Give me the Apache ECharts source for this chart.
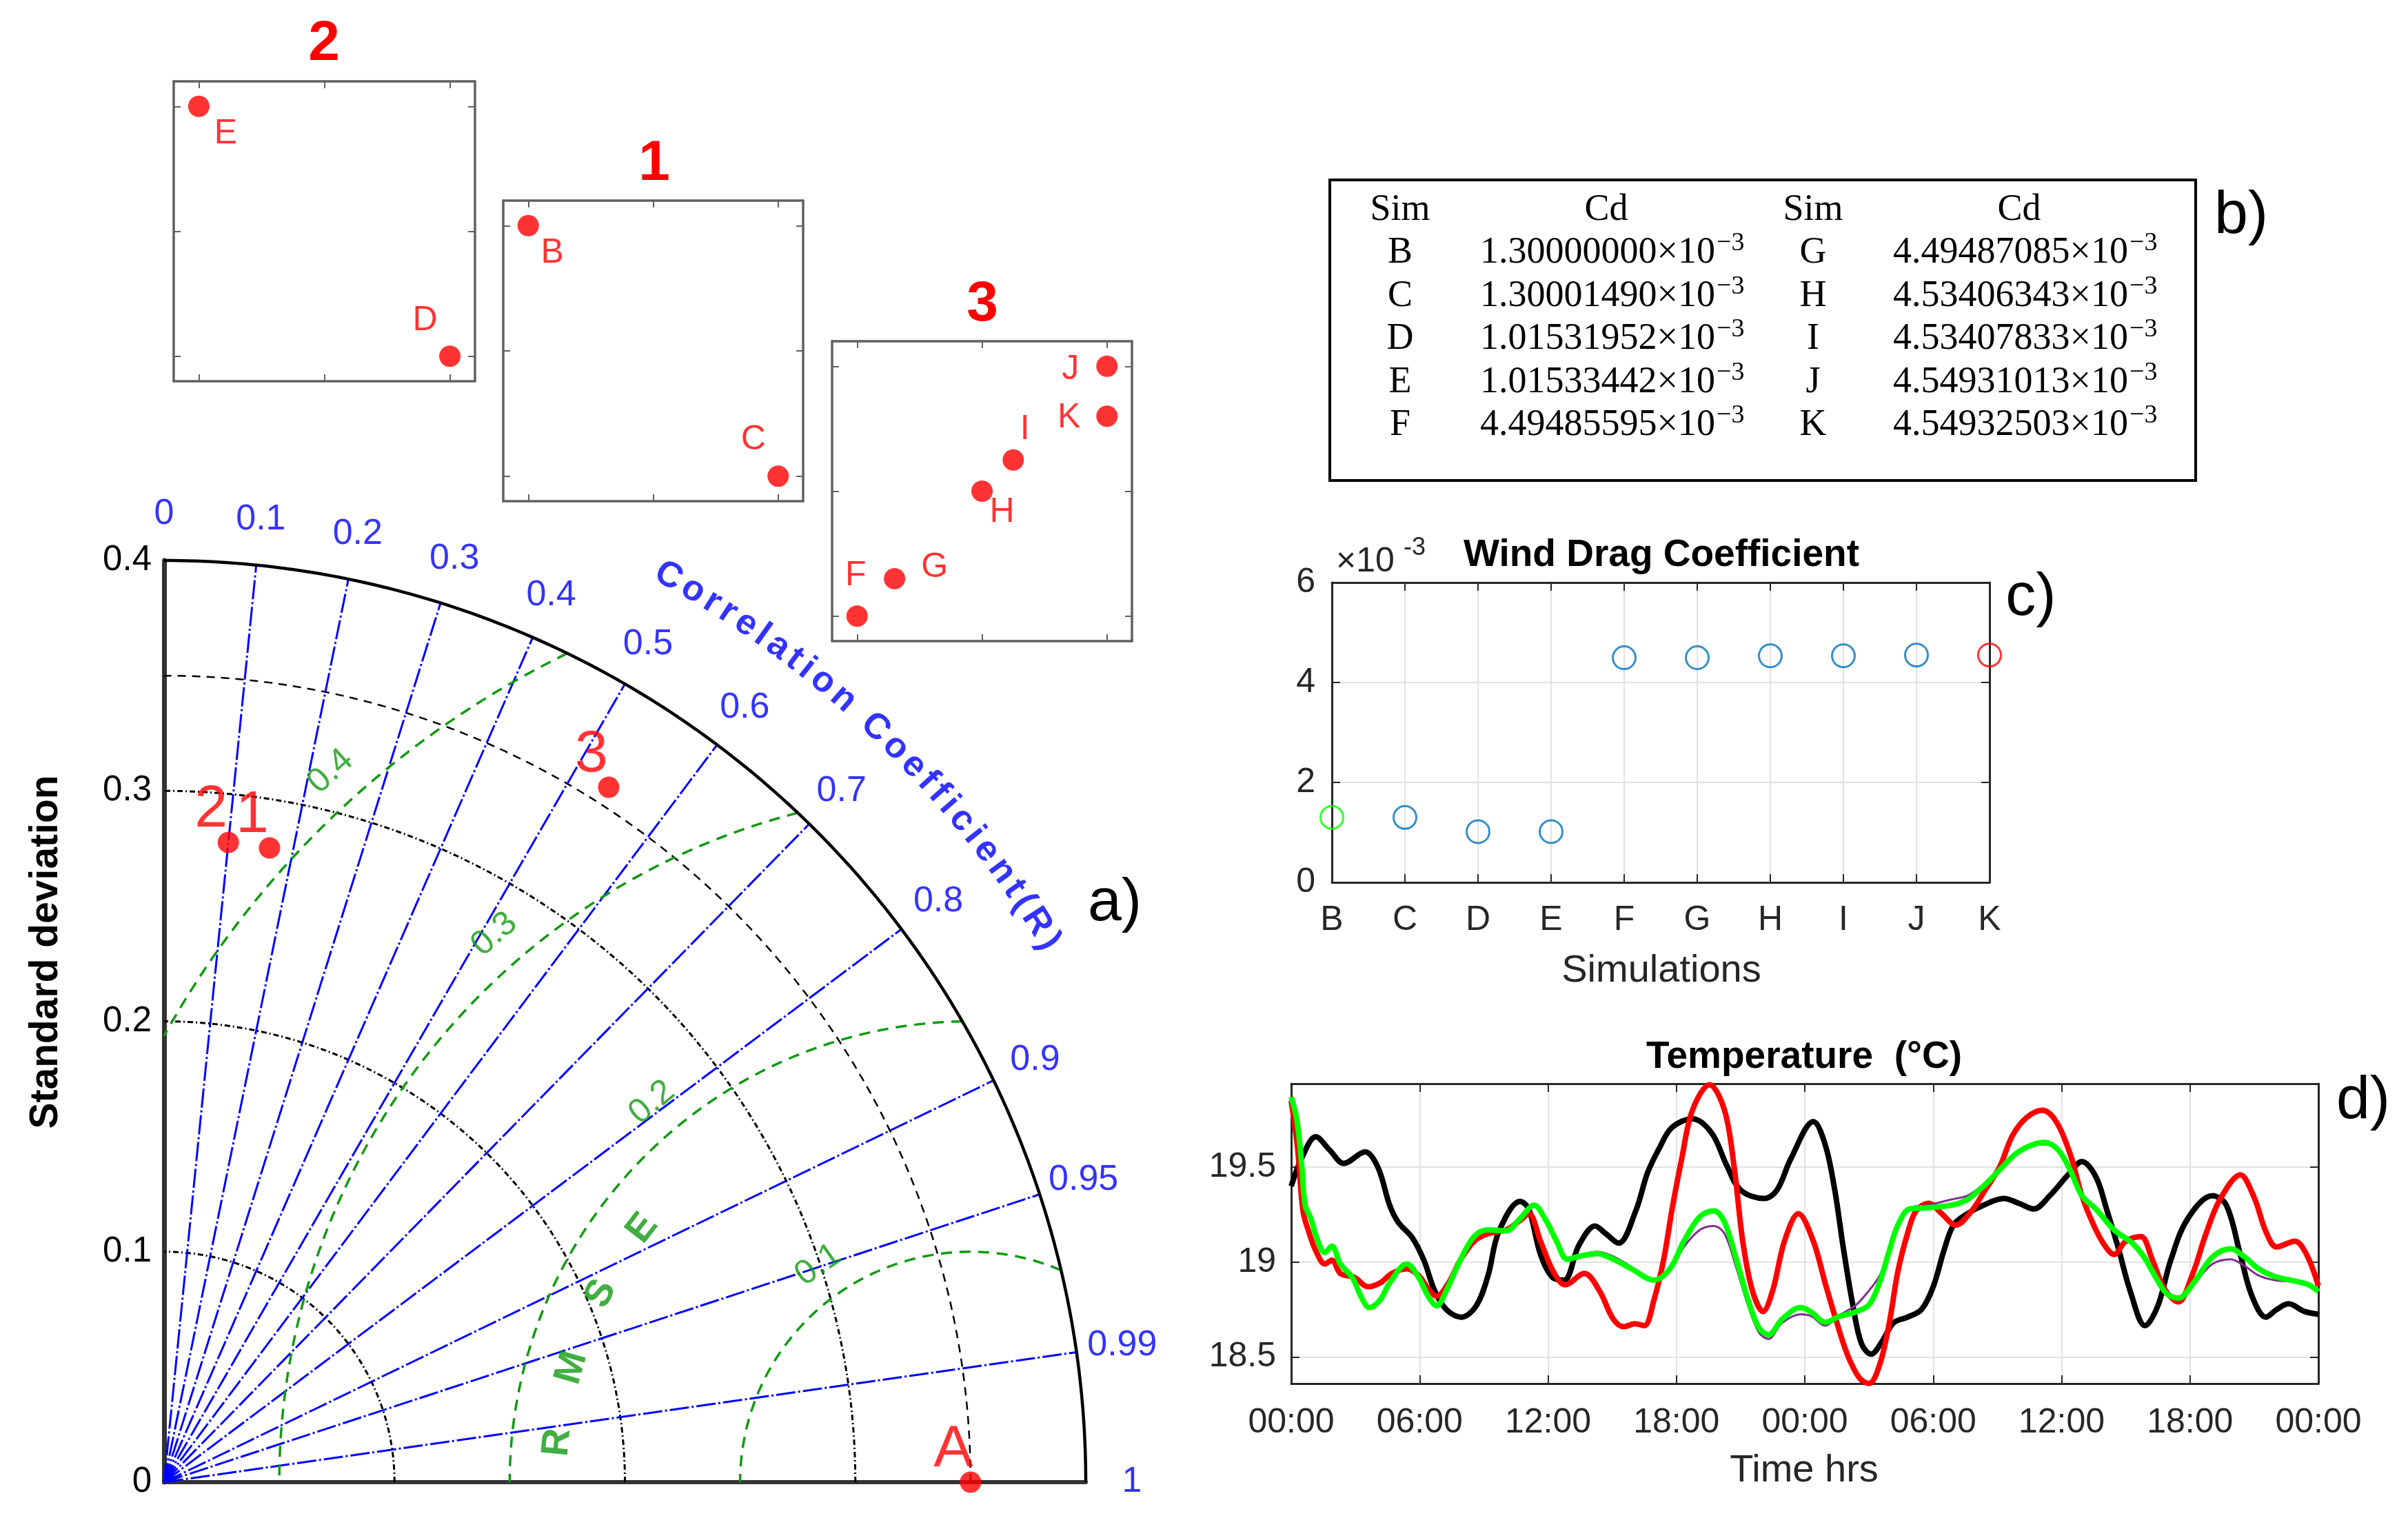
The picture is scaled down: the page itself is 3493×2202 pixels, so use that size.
<!DOCTYPE html>
<html>
<head>
<meta charset="utf-8">
<script src="https://cdn.jsdelivr.net/npm/echarts@6/dist/echarts.min.js"></script>
<style>
html,body{margin:0;padding:0;background:#fff;}
#c{width:3493px;height:2202px;}
</style>
</head>
<body>
<div id="c"></div>
<script>
// ================= DATA =================
// (a) Taylor diagram
const taylorNames = ['A', '1', '2', '3'];
const taylorStd   = [0.35, 0.279, 0.279, 0.358];
const taylorCorr  = [1.0, 0.164, 0.100, 0.539];
const stdArcs     = [0.1, 0.2, 0.3];
const refStd      = 0.35;
const maxStd      = 0.4;
const corrTicks   = [0, 0.1, 0.2, 0.3, 0.4, 0.5, 0.6, 0.7, 0.8, 0.9, 0.95, 0.99, 1];
const rmsLevels   = [0.1, 0.2, 0.3, 0.4];

// zoom insets (tick units)
const inset2Names = ['E', 'D'];
const inset2X = [0, 2];
const inset2Y = [2, 0];
const inset1Names = ['B', 'C'];
const inset1X = [0, 2];
const inset1Y = [2, 0];
const inset3Names = ['F', 'G', 'H', 'I', 'J', 'K'];
const inset3X = [0, 0.3, 1, 1.25, 2, 2];
const inset3Y = [0, 0.3, 1, 1.25, 2, 1.6];
const insetTitles = ['2', '1', '3'];

// (b) table and (c) wind drag coefficient (x 10^-3)
const simNames   = ['B', 'C', 'D', 'E', 'F', 'G', 'H', 'I', 'J', 'K'];
const cdMantissa = [1.30000000, 1.30001490, 1.01531952, 1.01533442, 4.49485595,
                    4.49487085, 4.53406343, 4.53407833, 4.54931013, 4.54932503];

// (d) temperature [hours, degC]
const tempBlack = [[0,19.40],[0.5,19.55],[1.15,19.66],[1.8,19.59],[2.45,19.52],[3.45,19.58],[4.05,19.50],[4.6,19.30],[5.0,19.21],[5.65,19.13],[6.2,19.01],[6.7,18.85],[7.25,18.75],[7.95,18.71],[8.65,18.77],[9.2,18.93],[9.7,19.16],[10.7,19.32],[11.1,19.28],[11.65,19.04],[12.2,18.92],[12.75,18.905],[13.45,19.09],[14.2,19.19],[14.7,19.15],[15.3,19.10],[16.1,19.27],[16.65,19.47],[17.2,19.60],[17.8,19.71],[18.75,19.755],[19.65,19.68],[20.35,19.51],[21.0,19.38],[22.1,19.335],[22.7,19.38],[23.35,19.545],[24.4,19.74],[24.95,19.62],[25.4,19.38],[25.8,19.075],[26.25,18.77],[26.65,18.57],[27.1,18.515],[27.6,18.58],[28.15,18.68],[28.8,18.71],[29.45,18.75],[30.0,18.87],[30.5,19.06],[30.95,19.195],[31.6,19.255],[32.35,19.30],[33.3,19.335],[34.0,19.31],[34.7,19.28],[35.45,19.35],[36.3,19.46],[36.95,19.53],[37.6,19.45],[38.1,19.28],[38.65,19.075],[39.2,18.85],[39.9,18.665],[40.5,18.77],[41.1,19.01],[41.9,19.23],[43.05,19.35],[43.7,19.30],[44.35,19.04],[44.9,18.82],[45.55,18.71],[46.05,18.75],[46.6,18.78],[47.35,18.74],[48,18.725]];
const tempRed = [[0,19.85],[0.3,19.60],[0.55,19.27],[0.82,19.16],[1.15,19.06],[1.57,18.99],[1.9,19.01],[2.3,18.94],[2.95,18.92],[3.6,18.87],[4.15,18.89],[4.7,18.94],[5.4,18.965],[5.95,18.93],[6.4,18.86],[6.8,18.82],[7.35,18.89],[7.9,19.01],[8.55,19.11],[9.2,19.15],[10.05,19.17],[10.7,19.22],[11.1,19.255],[11.65,19.11],[12.25,18.95],[12.8,18.88],[13.7,18.94],[14.4,18.85],[15.05,18.70],[15.55,18.66],[16.05,18.675],[16.5,18.665],[16.95,18.80],[17.4,19.01],[17.8,19.28],[18.25,19.545],[18.75,19.80],[19.55,19.935],[20.25,19.80],[20.7,19.50],[21.1,19.11],[21.55,18.85],[22.05,18.74],[22.5,18.85],[23.05,19.11],[23.7,19.255],[24.4,19.11],[24.95,18.89],[25.5,18.68],[26.0,18.51],[26.55,18.39],[27.0,18.36],[27.5,18.46],[27.95,18.68],[28.35,18.95],[28.8,19.15],[29.2,19.27],[29.8,19.31],[30.4,19.255],[31.05,19.195],[31.8,19.27],[32.4,19.375],[33.1,19.50],[33.7,19.665],[34.35,19.76],[35.1,19.80],[35.75,19.74],[36.4,19.57],[36.95,19.35],[37.5,19.195],[38.0,19.09],[38.45,19.04],[39.0,19.11],[39.7,19.135],[40.25,19.01],[40.8,18.86],[41.45,18.79],[42.1,18.93],[42.75,19.15],[43.4,19.33],[44.35,19.46],[45.0,19.34],[45.55,19.16],[46.05,19.08],[46.9,19.11],[47.45,19.04],[48,18.875]];
const tempGreen = [[0,19.87],[0.28,19.74],[0.5,19.50],[0.65,19.30],[0.92,19.23],[1.25,19.11],[1.57,19.05],[1.9,19.085],[2.3,18.99],[2.85,18.92],[3.3,18.81],[3.65,18.76],[4.15,18.80],[4.6,18.89],[5.4,18.99],[5.95,18.92],[6.4,18.82],[6.8,18.77],[7.25,18.85],[7.9,19.01],[8.55,19.135],[9.2,19.17],[10.05,19.165],[10.7,19.23],[11.35,19.30],[11.9,19.22],[12.4,19.11],[12.9,19.015],[13.45,19.03],[14.3,19.045],[15.05,19.015],[15.9,18.965],[16.95,18.905],[17.7,18.965],[18.35,19.11],[19.1,19.24],[19.75,19.27],[20.25,19.21],[20.8,19.015],[21.35,18.80],[21.85,18.655],[22.3,18.617],[22.95,18.70],[23.8,18.76],[24.3,18.737],[24.95,18.683],[25.6,18.713],[26.35,18.737],[27.0,18.775],[27.5,18.895],[27.95,19.06],[28.35,19.195],[28.9,19.28],[29.75,19.286],[30.85,19.30],[31.6,19.33],[32.35,19.40],[33.1,19.485],[33.85,19.57],[34.6,19.617],[35.2,19.63],[35.85,19.59],[36.4,19.485],[36.95,19.35],[37.6,19.28],[38.45,19.17],[39.3,19.10],[39.85,19.027],[40.4,18.92],[40.9,18.835],[41.45,18.81],[42.2,18.895],[43.05,19.027],[43.9,19.07],[44.55,19.027],[45.2,18.965],[45.95,18.925],[46.9,18.90],[47.55,18.88],[48,18.845]];
const tempPurple = [[0,19.87],[0.28,19.74],[0.5,19.50],[0.65,19.30],[0.92,19.23],[1.25,19.11],[1.57,19.05],[1.9,19.085],[2.3,18.99],[2.85,18.92],[3.3,18.81],[3.65,18.76],[4.15,18.80],[4.6,18.89],[5.4,18.99],[5.95,18.92],[6.4,18.82],[6.8,18.77],[7.25,18.85],[7.9,19.01],[8.55,19.135],[9.2,19.17],[10.05,19.165],[10.7,19.23],[11.35,19.30],[11.9,19.22],[12.4,19.11],[12.9,19.015],[13.45,19.035],[14.3,19.055],[15.05,19.03],[15.9,18.975],[16.95,18.905],[17.7,18.955],[18.35,19.08],[19.1,19.17],[19.75,19.19],[20.25,19.15],[20.8,18.97],[21.35,18.77],[21.85,18.63],[22.3,18.595],[22.95,18.68],[23.8,18.725],[24.3,18.715],[24.95,18.665],[25.6,18.72],[26.35,18.77],[27.0,18.85],[27.5,18.93],[27.95,19.06],[28.35,19.195],[28.9,19.285],[29.75,19.30],[30.85,19.33],[31.6,19.35],[32.35,19.41],[33.1,19.485],[33.85,19.57],[34.6,19.61],[35.2,19.62],[35.85,19.585],[36.4,19.485],[36.95,19.35],[37.6,19.28],[38.45,19.17],[39.3,19.10],[39.85,19.027],[40.4,18.92],[40.9,18.835],[41.45,18.80],[42.2,18.885],[43.05,18.99],[43.9,19.015],[44.55,18.98],[45.2,18.93],[45.95,18.905],[46.9,18.895],[47.55,18.88],[48,18.845]];

// ================= STYLE / HELPERS =================
const SANS = 'Liberation Sans, Arial, Helvetica, sans-serif';
const SERIF = 'Liberation Serif, Times New Roman, serif';
const AXC = '#262626';
const GRID_C = '#e2e2e2';
const BLUE = '#0000ff';
const GREEN = '#119a11';
const RED = '#ff0000';
const RAD = Math.PI / 180;

function xy(r, t) { return [r * Math.cos(t), r * Math.sin(t)]; }
function quarterArc(r) {
  const pts = [];
  for (let i = 0; i <= 180; i++) pts.push(xy(r, i / 180 * Math.PI / 2));
  return pts;
}
function rmsArc(r) {
  const lo = Math.max(-1, -refStd / r);
  const hi = Math.min(1, (maxStd * maxStd - refStd * refStd - r * r) / (2 * refStd * r));
  const p1 = Math.acos(hi), p2 = Math.acos(lo);
  const pts = [];
  for (let i = 0; i <= 150; i++) {
    const p = p1 + (p2 - p1) * i / 150;
    pts.push([refStd + r * Math.cos(p), r * Math.sin(p)]);
  }
  return pts;
}
function lineS(points, color, width, type, z) {
  return { type: 'line', xAxisIndex: 0, yAxisIndex: 0, data: points, symbol: 'none', silent: true,
    clip: false, animation: false, lineStyle: { color: color, width: width, type: type }, z: z || 2 };
}
function textScatter(items, labelStyle) {
  return { type: 'scatter', xAxisIndex: 0, yAxisIndex: 0, clip: false, silent: true, animation: false,
    symbolSize: 1, itemStyle: { color: 'rgba(0,0,0,0)' }, z: 4,
    data: items.map(it => ({ name: it.text, value: it.pos, label: { rotate: it.rot || 0 } })),
    label: Object.assign({ show: true, position: 'inside', formatter: '{b}' }, labelStyle) };
}

// ================= TAYLOR SERIES =================
const taylorSeries = [];
stdArcs.forEach(r => taylorSeries.push(lineS(quarterArc(r), '#000', 3, [8, 4, 2, 4])));
taylorSeries.push(lineS(quarterArc(refStd), '#000', 2.5, [12, 9]));
corrTicks.filter(c => c > 0 && c < 1).forEach(c => {
  taylorSeries.push(lineS([[0, 0], xy(maxStd, Math.acos(c))], BLUE, 3, [28, 4, 3, 4]));
});
rmsLevels.forEach(r => taylorSeries.push(lineS(rmsArc(r), GREEN, 3.5, [16, 11])));
taylorSeries.push(lineS(quarterArc(maxStd), '#000', 4.5, 'solid', 3));

// correlation tick labels
taylorSeries.push(textScatter(
  corrTicks.map(c => ({ text: String(c), pos: xy(0.42, Math.acos(c)) })),
  { color: BLUE, fontSize: 52, fontFamily: SANS }));

// RMS labels
const rmsLabelAngle = [125, 130, 131, 132];
taylorSeries.push(textScatter(
  rmsLevels.map((r, i) => {
    const p = rmsLabelAngle[i] * RAD, rr = r + 0.015;
    return { text: String(r), pos: [refStd + rr * Math.cos(p), rr * Math.sin(p)], rot: rmsLabelAngle[i] - 90 };
  }),
  { color: GREEN, fontSize: 50, fontFamily: SANS }));

// "RMSE" letters
const rmseAngles = [174.5, 164, 153, 142.3];
taylorSeries.push(textScatter(
  'RMSE'.split('').map((ch, i) => {
    const p = rmseAngles[i] * RAD;
    return { text: ch, pos: [refStd + 0.18 * Math.cos(p), 0.18 * Math.sin(p)], rot: rmseAngles[i] - 90 };
  }),
  { color: GREEN, fontSize: 56, fontWeight: 'bold', fontFamily: SANS }));

// Curved "Correlation Coefficient(R)"
(function () {
  const txt = 'Correlation Coefficient(R)';
  const fs = 52;
  const ctx = document.createElement('canvas').getContext('2d');
  ctx.font = 'bold ' + fs + 'px ' + SANS;
  const chars = txt.split('');
  const w = chars.map(ch => ctx.measureText(ch).width);
  const pxPerStd = 1337 / maxStd;
  const rText = 0.45, th0 = 60.9, th1 = 31.4;
  const arcPx = rText * pxPerStd * (th0 - th1) * RAD;
  let centers = [], acc = 0;
  for (let i = 0; i < chars.length; i++) { centers.push(acc + w[i] / 2); acc += w[i]; }
  const base = centers[centers.length - 1] - centers[0];
  const sp = (arcPx - base) / (chars.length - 1);
  const items = chars.map((ch, i) => {
    const s = centers[i] - centers[0] + sp * i;
    const th = th0 - (s / (rText * pxPerStd)) / RAD;
    return { text: ch, pos: xy(rText, th * RAD), rot: th - 90 };
  });
  taylorSeries.push(textScatter(items, { color: BLUE, fontSize: fs, fontWeight: 'bold', fontFamily: SANS }));
})();

// data points
taylorSeries.push({
  type: 'scatter', xAxisIndex: 0, yAxisIndex: 0, clip: false, animation: false, z: 6,
  symbolSize: 31, itemStyle: { color: RED },
  data: taylorNames.map((n, i) => ({ name: n, value: xy(taylorStd[i], Math.acos(taylorCorr[i])) })),
  label: { show: true, position: 'inside', offset: [-25, -47], formatter: '{b}', color: RED, fontSize: 86, fontFamily: SANS }
});

// ================= INSETS =================
const labelOffsets = { E: [39, 40], D: [-36, -52], B: [35, 40], C: [-36, -52], J: [-53, 5], K: [-55, 2],
                       I: [17, -44], H: [29, 31], G: [58, -16], F: [-2, -59] };
const insetGrids = [
  { left: 252, top: 118, width: 437, height: 435 },
  { left: 730, top: 291, width: 435, height: 436 },
  { left: 1207, top: 495, width: 435, height: 435 }
];
const insetSets = [[inset2Names, inset2X, inset2Y], [inset1Names, inset1X, inset1Y], [inset3Names, inset3X, inset3Y]];
function insetAxis(gi, pos) {
  return { gridIndex: gi, type: 'value', min: -0.2, max: 2.2, position: pos,
    axisLine: { show: true, onZero: false, lineStyle: { color: '#606060', width: 3.5 } },
    axisTick: { show: true, inside: true, length: 10, customValues: [0, 1, 2], lineStyle: { color: '#606060', width: 2 } },
    axisLabel: { show: false }, splitLine: { show: false } };
}

// ================= AXES =================
const xAxes = [], yAxes = [];
// 0: Taylor
xAxes.push({ gridIndex: 0, type: 'value', min: 0, max: maxStd,
  axisLine: { show: true, onZero: false, lineStyle: { color: '#333', width: 6 } },
  axisTick: { show: false }, axisLabel: { show: false }, splitLine: { show: false } });
yAxes.push({ gridIndex: 0, type: 'value', min: 0, max: maxStd, interval: 0.1,
  axisLine: { show: true, onZero: false, lineStyle: { color: '#333', width: 7 } },
  axisTick: { show: false }, splitLine: { show: false },
  axisLabel: { color: '#000', fontSize: 51, fontFamily: SANS, margin: 18, formatter: v => (v === 0 ? '0' : v.toFixed(1)) } });
// 1-6: insets
[1, 2, 3].forEach(gi => {
  xAxes.push(insetAxis(gi, 'bottom')); xAxes.push(insetAxis(gi, 'top'));
  yAxes.push(insetAxis(gi, 'left')); yAxes.push(insetAxis(gi, 'right'));
});
// 7-8: chart c
const boxLine = { show: true, onZero: false, lineStyle: { color: AXC, width: 3 } };
const inTick = { show: true, inside: true, length: 12, lineStyle: { color: AXC, width: 2 } };
xAxes.push({ gridIndex: 4, type: 'category', data: simNames, boundaryGap: false, position: 'bottom',
  axisLine: boxLine, axisTick: Object.assign({ alignWithLabel: true, interval: 0 }, inTick),
  axisLabel: { interval: 0, color: AXC, fontSize: 50, fontFamily: SANS, margin: 30 },
  splitLine: { show: true, interval: 0, lineStyle: { color: GRID_C, width: 2 } } });
xAxes.push({ gridIndex: 4, type: 'category', data: simNames, boundaryGap: false, position: 'top',
  axisLine: boxLine, axisTick: Object.assign({ interval: 0 }, inTick), axisLabel: { show: false }, splitLine: { show: false } });
yAxes.push({ gridIndex: 4, type: 'value', min: 0, max: 6, interval: 2, position: 'left',
  axisLine: boxLine, axisTick: inTick,
  axisLabel: { color: AXC, fontSize: 50, fontFamily: SANS, margin: 24 },
  splitLine: { show: true, lineStyle: { color: GRID_C, width: 2 } } });
yAxes.push({ gridIndex: 4, type: 'value', min: 0, max: 6, interval: 2, position: 'right',
  axisLine: boxLine, axisTick: inTick, axisLabel: { show: false }, splitLine: { show: false } });
// 9-10: chart d
const hourFmt = v => String(v % 24).padStart(2, '0') + ':00';
xAxes.push({ gridIndex: 5, type: 'value', min: 0, max: 48, interval: 6, position: 'bottom',
  axisLine: boxLine, axisTick: inTick,
  axisLabel: { color: AXC, fontSize: 50, fontFamily: SANS, margin: 32, formatter: hourFmt },
  splitLine: { show: true, lineStyle: { color: GRID_C, width: 2 } } });
xAxes.push({ gridIndex: 5, type: 'value', min: 0, max: 48, interval: 6, position: 'top',
  axisLine: boxLine, axisTick: inTick, axisLabel: { show: false }, splitLine: { show: false } });
yAxes.push({ gridIndex: 5, type: 'value', min: 18.36, max: 19.94, splitNumber: 3, position: 'left',
  axisLine: boxLine, axisTick: inTick,
  axisLabel: { color: AXC, fontSize: 50, fontFamily: SANS, margin: 22, showMinLabel: false, showMaxLabel: false },
  splitLine: { show: true, lineStyle: { color: GRID_C, width: 2 } } });
yAxes.push({ gridIndex: 5, type: 'value', min: 18.36, max: 19.94, splitNumber: 3, position: 'right',
  axisLine: boxLine, axisTick: inTick, axisLabel: { show: false }, splitLine: { show: false } });

// ================= SERIES =================
const series = taylorSeries.slice();
insetSets.forEach((set, k) => {
  const [names, xs, ys] = set;
  series.push({
    type: 'scatter', xAxisIndex: 1 + 2 * k, yAxisIndex: 1 + 2 * k, animation: false, clip: false,
    symbolSize: 31, itemStyle: { color: RED },
    data: names.map((n, i) => ({ name: n, value: [xs[i], ys[i]], label: { offset: labelOffsets[n] } })),
    label: { show: true, position: 'inside', formatter: '{b}', color: RED, fontSize: 50, fontFamily: SANS }
  });
});
function cdColor(i) { return i === 0 ? '#00ff00' : (i === simNames.length - 1 ? '#ff0000' : '#0072bd'); }
series.push({
  type: 'scatter', xAxisIndex: 7, yAxisIndex: 7, animation: false, clip: false, symbol: 'circle', symbolSize: 33,
  data: simNames.map((n, i) => ({ value: [n, cdMantissa[i]],
    itemStyle: { color: 'rgba(255,255,255,0)', borderColor: cdColor(i), borderWidth: 3 } })),
  z: 5
});
function tempLine(data, color, width, z) {
  return { type: 'line', xAxisIndex: 9, yAxisIndex: 9, data: data, symbol: 'none', smooth: 0.35,
    animation: false, clip: false, lineStyle: { color: color, width: width }, z: z };
}
series.push(tempLine(tempBlack, '#000000', 8, 3));
series.push(tempLine(tempRed, '#ff0000', 8, 4));
series.push(tempLine(tempPurple, '#7e2f8e', 3, 5));
series.push(tempLine(tempGreen, '#00ff00', 8, 6));

// ================= GRAPHICS (text, table) =================
const gfx = [];
function txt(x, y, text, o) {
  o = o || {};
  gfx.push({ type: 'text', x: x, y: y, rotation: o.rotation || 0, z: 10,
    style: { text: text, fontSize: o.fontSize || 48, fontFamily: o.fontFamily || SANS, fontWeight: o.fontWeight || 'normal',
      fill: o.fill || '#000', align: o.align || 'center', verticalAlign: o.verticalAlign || 'middle' } });
}
// axis name Taylor
txt(67, 1381, 'Standard deviation', { fontSize: 57, fontWeight: 'bold', rotation: Math.PI / 2 });
// inset titles
const insetTitlePos = [[470, 64], [949, 238], [1425, 442]];
insetTitles.forEach((t, i) => txt(insetTitlePos[i][0], insetTitlePos[i][1], t, { fontSize: 82, fontWeight: 'bold', fill: RED }));
// panel letters
txt(1617, 1311, 'a)', { fontSize: 88 });
txt(3251, 314, 'b)', { fontSize: 88 });
txt(2946, 868, 'c)', { fontSize: 88 });
txt(3428, 1598, 'd)', { fontSize: 88 });
// chart c texts
txt(2410, 806, 'Wind Drag Coefficient', { fontSize: 55, fontWeight: 'bold' });
txt(1938, 815, '\u00d710', { fontSize: 50, align: 'left', fill: AXC });
txt(2036, 795, '-3', { fontSize: 36, align: 'left', fill: AXC });
txt(2410, 1409, 'Simulations', { fontSize: 56, fill: AXC });
// chart d texts
txt(2617, 1534, 'Temperature  (\u00b0C)', { fontSize: 55, fontWeight: 'bold' });
txt(2617, 2134, 'Time hrs', { fontSize: 56, fill: AXC });
// table b
gfx.push({ type: 'rect', z: 10, shape: { x: 1929, y: 261, width: 1256, height: 436 },
  style: { fill: 'rgba(0,0,0,0)', stroke: '#000', lineWidth: 4 } });
const colCenters = [2031, 2330, 2630, 2929];
const rowY = [367, 430, 492, 555, 617];
['Sim', 'Cd', 'Sim', 'Cd'].forEach((h, i) => txt(colCenters[i], 305, h, { fontSize: 54, fontFamily: SERIF }));
for (let r = 0; r < 5; r++) {
  [0, 1].forEach(side => {
    const idx = r + side * 5;
    const cSim = colCenters[side * 2], cVal = colCenters[side * 2 + 1];
    txt(cSim, rowY[r], simNames[idx], { fontSize: 54, fontFamily: SERIF });
    txt(cVal + 158, rowY[r], cdMantissa[idx].toFixed(8) + '\u00d710', { fontSize: 54, fontFamily: SERIF, align: 'right' });
    txt(cVal + 160, rowY[r] - 14, '\u22123', { fontSize: 38, fontFamily: SERIF, align: 'left' });
  });
}

// ================= OPTION =================
const option = {
  backgroundColor: '#ffffff',
  animation: false,
  grid: [
    { left: 238, top: 813, width: 1337, height: 1337 },
    insetGrids[0], insetGrids[1], insetGrids[2],
    { left: 1932, top: 845, width: 954, height: 435 },
    { left: 1873, top: 1572, width: 1490, height: 435 }
  ],
  xAxis: xAxes,
  yAxis: yAxes,
  series: series,
  graphic: { elements: gfx }
};
const chart = echarts.init(document.getElementById('c'), null, { renderer: 'canvas', width: 3493, height: 2202 });
chart.setOption(option);
</script>
</body>
</html>
